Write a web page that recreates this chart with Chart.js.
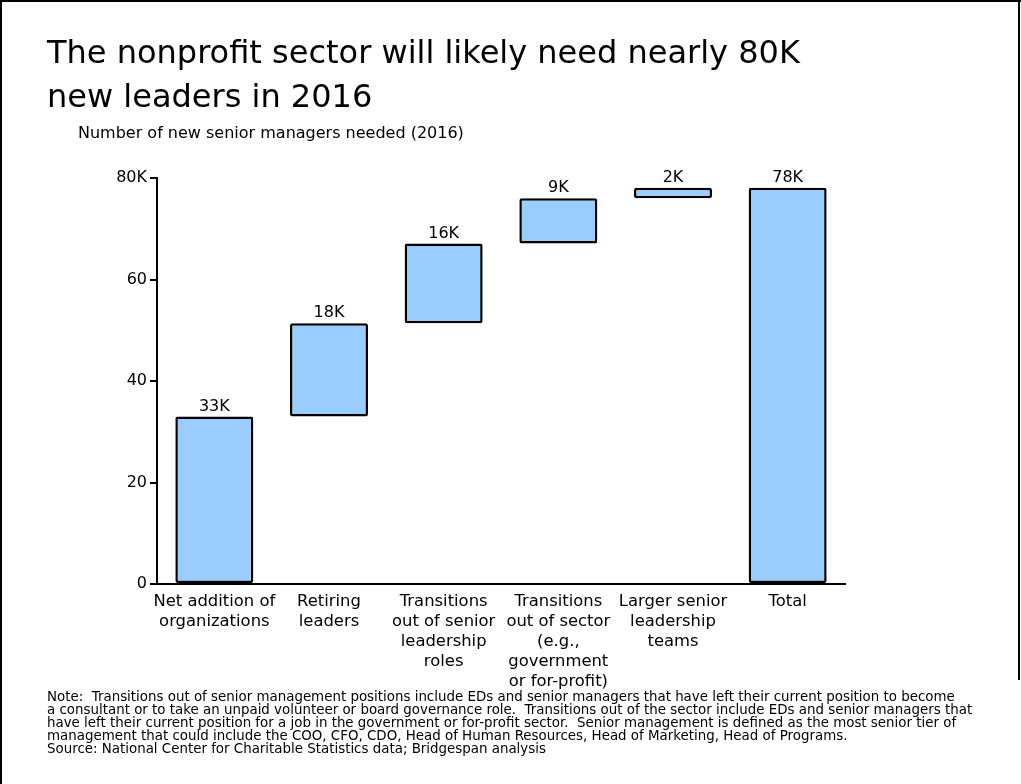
<!DOCTYPE html>
<html>
<head>
<meta charset="utf-8">
<script src="https://cdn.jsdelivr.net/npm/chart.js@4/dist/chart.umd.min.js"></script>
<style>
  html, body { margin: 0; padding: 0; background: #fff; }
  body { width: 1021px; height: 784px; position: relative; overflow: hidden; font-family: "DejaVu Sans", Verdana, sans-serif; color: #000; }
  #frame { position: absolute; left: 0; top: 0; width: 1021px; height: 784px; pointer-events: none; }
  .bl { position: absolute; left: 0; top: 0; width: 2px; height: 784px; background: #000; }
  .bt { position: absolute; left: 0; top: 0; width: 1021px; height: 2px; background: #000; }
  .br { position: absolute; right: 1px; top: 0; width: 2px; height: 680px; background: #000; }
  #title { position: absolute; left: 47px; top: 30px; font-size: 32px; line-height: 44px; white-space: nowrap; }
  #subtitle { position: absolute; left: 78px; top: 123px; font-size: 16px; line-height: 20px; white-space: nowrap; }
  #notes { position: absolute; left: 47px; top: 690px; font-size: 13.4px; line-height: 13px; white-space: pre; }
  #wrap { position: absolute; left: 0; top: 0; width: 1021px; height: 784px; }
</style>
</head>
<body>
<div id="wrap"><canvas id="c" width="1021" height="784"></canvas></div>
<div id="title">The nonprofit sector will likely need nearly 80K<br>new leaders in 2016</div>
<div id="subtitle">Number of new senior managers needed (2016)</div>
<div id="notes">Note:  Transitions out of senior management positions include EDs and senior managers that have left their current position to become
a consultant or to take an unpaid volunteer or board governance role.  Transitions out of the sector include EDs and senior managers that
have left their current position for a job in the government or for-profit sector.  Senior management is defined as the most senior tier of
management that could include the COO, CFO, CDO, Head of Human Resources, Head of Marketing, Head of Programs.
Source: National Center for Charitable Statistics data; Bridgespan analysis</div>
<div id="frame"><div class="bl"></div><div class="bt"></div><div class="br"></div></div>
<script>
const categories = [
  ["Net addition of", "organizations"],
  ["Retiring", "leaders"],
  ["Transitions", "out of senior", "leadership", "roles"],
  ["Transitions", "out of sector", "(e.g.,", "government", "or for-profit)"],
  ["Larger senior", "leadership", "teams"],
  ["Total"]
];
const barStarts = [0, 33, 51.4, 67.1, 76, 0];
const barEnds   = [33, 51.4, 67.1, 76, 78.1, 78.1];
const valueLabels = ["33K", "18K", "16K", "9K", "2K", "78K"];
const yTickValues = [0, 20, 40, 60, 80];
const yTickLabels = ["0", "20", "40", "60", "80K"];

const FONT = "'DejaVu Sans', Verdana, sans-serif";

const labelPlugin = {
  id: 'valueLabels',
  afterDatasetsDraw(chart) {
    const ctx = chart.ctx;
    const meta = chart.getDatasetMeta(0);
    ctx.save();
    ctx.font = "16px " + FONT;
    ctx.fillStyle = "#000";
    ctx.textAlign = "center";
    ctx.textBaseline = "bottom";
    meta.data.forEach((bar, i) => {
      const top = Math.min(bar.y, bar.base);
      ctx.fillText(valueLabels[i], bar.x, top - 2);
    });
    ctx.restore();
  }
};

new Chart(document.getElementById('c'), {
  type: 'bar',
  data: {
    labels: categories,
    datasets: [{
      data: barStarts.map((s, i) => [s, barEnds[i]]),
      backgroundColor: '#99CCFF',
      borderColor: '#000',
      borderWidth: 2.5,
      borderSkipped: false,
      borderRadius: 2,
      barPercentage: 0.68,
      categoryPercentage: 1
    }]
  },
  options: {
    responsive: false,
    animation: false,
    devicePixelRatio: 1,
    layout: { padding: { left: 0, top: 178, right: 176, bottom: 0 } },
    plugins: { legend: { display: false }, tooltip: { enabled: false }, title: { display: false } },
    scales: {
      x: {
        grid: { display: false },
        border: { display: true, color: '#000', width: 2 },
        ticks: {
          color: '#000',
          font: { family: FONT, size: 16.4, lineHeight: 1.22 },
          maxRotation: 0, minRotation: 0, autoSkip: false, padding: 0
        },
        afterFit(scale) { scale.height = 200; }
      },
      y: {
        min: 0, max: 80,
        afterBuildTicks(scale) { scale.ticks = yTickValues.map(v => ({ value: v })); },
        grid: { drawOnChartArea: false, drawTicks: true, tickLength: 7, color: '#000', lineWidth: 2 },
        border: { display: true, color: '#000', width: 2 },
        ticks: {
          color: '#000',
          font: { family: FONT, size: 16 },
          padding: 3,
          callback(value) { const k = yTickValues.indexOf(value); return k >= 0 ? yTickLabels[k] : ''; }
        },
        afterFit(scale) { scale.width = 157; }
      }
    }
  },
  plugins: [labelPlugin]
});
</script>
</body>
</html>
